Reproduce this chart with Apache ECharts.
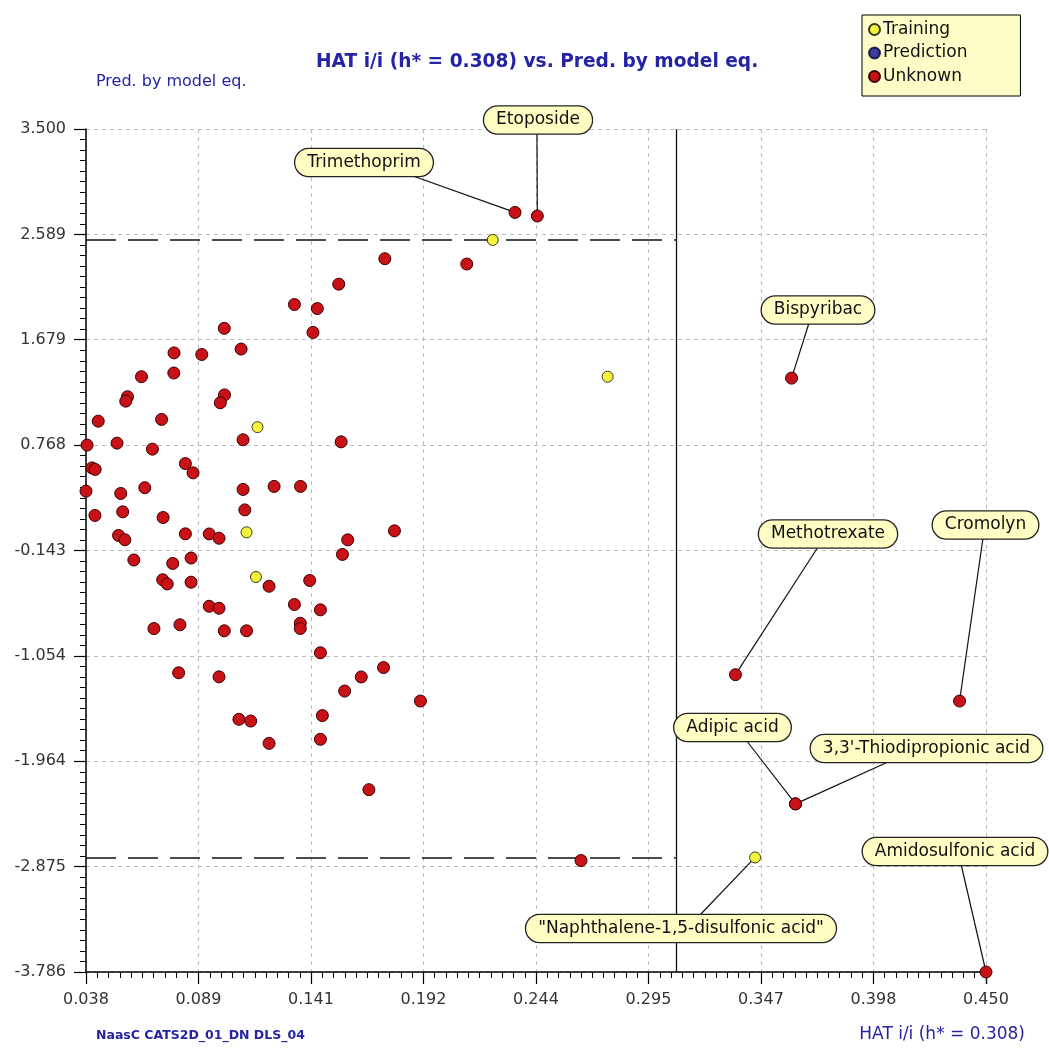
<!DOCTYPE html>
<html>
<head>
<meta charset="utf-8">
<script src="https://cdn.jsdelivr.net/npm/echarts@6/dist/echarts.min.js"></script>
<style>
html,body{margin:0;padding:0;background:#fff;}
#chart{width:1049px;height:1052px;}
</style>
</head>
<body>
<div id="chart"></div>
<script>
// ---------- DATA ----------
const xTickLabels = ['0.038','0.089','0.141','0.192','0.244','0.295','0.347','0.398','0.450'];
const yTickLabels = ['-3.786','-2.875','-1.964','-1.054','-0.143','0.768','1.679','2.589','3.500'];
const xMin = 0.038, xMax = 0.450;
const yMin = -3.786, yMax = 3.500;
const hStar = 0.308;
const upperLimit = 2.541;
const lowerLimit = -2.802;

// Unknown compounds (HAT i/i, Pred. by model eq.)
const unknownPoints = [
  [0.1013,1.777],[0.0783,1.565],[0.0910,1.551],[0.1090,1.598],[0.0634,1.359],[0.0782,1.391],
  [0.0570,1.186],[0.0562,1.148],[0.1014,1.202],[0.0995,1.134],[0.0436,0.975],[0.0726,0.990],
  [0.0385,0.768],[0.0522,0.785],[0.0684,0.733],[0.1099,0.814],[0.0407,0.571],[0.0422,0.558],
  [0.0835,0.608],[0.0870,0.528],[0.0380,0.370],[0.0539,0.350],[0.0649,0.400],[0.1099,0.385],
  [0.0421,0.160],[0.0548,0.191],[0.0733,0.142],[0.1107,0.208],[0.0529,-0.013],[0.0558,-0.050],
  [0.0835,0.001],[0.0944,0.000],[0.0989,-0.037],[0.0599,-0.225],[0.0777,-0.255],[0.0861,-0.208],
  [0.0731,-0.396],[0.0752,-0.432],[0.0861,-0.417],[0.0944,-0.625],[0.0989,-0.642],[0.0691,-0.818],
  [0.0810,-0.785],[0.1013,-0.837],[0.1115,-0.837],[0.0804,-1.200],[0.0989,-1.235],[0.1080,-1.602],
  [0.1134,-1.617],[0.1748,2.379],[0.1537,2.159],[0.1334,1.983],[0.1439,1.948],[0.1419,1.742],
  [0.1548,0.796],[0.1241,0.411],[0.1362,0.411],[0.1792,0.027],[0.1578,-0.051],[0.1554,-0.177],
  [0.1218,-0.452],[0.1404,-0.402],[0.1334,-0.610],[0.1453,-0.656],[0.1361,-0.772],[0.1361,-0.817],
  [0.1453,-1.027],[0.1742,-1.155],[0.1640,-1.236],[0.1564,-1.358],[0.1911,-1.444],[0.1462,-1.570],
  [0.1218,-1.810],[0.1453,-1.775],[0.1675,-2.210],[0.2123,2.333],[0.2646,-2.823]
];
// Training compounds
const trainingPoints = [
  [0.1165,0.923],[0.1115,0.014],[0.1158,-0.372],[0.2242,2.541],[0.2768,1.359]
];
// Prediction compounds (none)
const predictionPoints = [];

// Annotated compounds
const annotatedNames = ['Trimethoprim','Etoposide','Bispyribac','Methotrexate','Cromolyn',
  'Adipic acid',"3,3'-Thiodipropionic acid",'Amidosulfonic acid','"Naphthalene-1,5-disulfonic acid"'];
const annotatedPoints = [[0.2344,2.779],[0.2446,2.748],[0.3610,1.347],[0.3353,-1.216],[0.4379,-1.444],
  [0.3628,-2.333],[0.3628,-2.333],[0.4500,-3.786],[0.3443,-2.796]];
const annotatedSet = ['Unknown','Unknown','Unknown','Unknown','Unknown','Unknown','Unknown','Unknown','Training'];

// ---------- LAYOUT / STYLE ----------
// label box centres and leader-line attachment points (pixels)
const labelCenters = {
  'Trimethoprim':[364,162.5], 'Etoposide':[538,120], 'Bispyribac':[818,310],
  'Methotrexate':[828,534], 'Cromolyn':[985.5,525], 'Adipic acid':[732.5,727.5],
  "3,3'-Thiodipropionic acid":[926.5,748.5], 'Amidosulfonic acid':[955,851.5],
  '"Naphthalene-1,5-disulfonic acid"':[681,928.5]
};
const labelAnchors = {
  'Trimethoprim':[413,176], 'Etoposide':[537,133], 'Bispyribac':[809,323],
  'Methotrexate':[818,547], 'Cromolyn':[983,538], 'Adipic acid':[746,740],
  "3,3'-Thiodipropionic acid":[888,762], 'Amidosulfonic acid':[961,864],
  '"Naphthalene-1,5-disulfonic acid"':[699,916]
};
const FONT = 'DejaVu Sans';
const BLUE = '#2424a4';
const xInterval = (xMax - xMin) / 8;
const yInterval = (yMax - yMin) / 8;

function buildData(setName, plain) {
  const d = plain.map(p => ({value: p}));
  annotatedNames.forEach((n, i) => {
    if (annotatedSet[i] === setName) {
      d.push({value: annotatedPoints[i], name: n, label: {show: true, formatter: n}});
    }
  });
  return d;
}

const leaderLines = annotatedNames.map((n, i) => [
  {coord: annotatedPoints[i]},
  {x: labelAnchors[n][0], y: labelAnchors[n][1]}
]);

const annLabel = {
  show: false, color: '#111', fontFamily: FONT, fontSize: 17,
  backgroundColor: '#fdfdc4', borderColor: '#222', borderWidth: 1.3,
  borderRadius: 14, padding: [5, 12, 5, 12]
};
function annLayout(params) {
  const c = labelCenters[params.text];
  if (!c) return {};
  return {x: c[0], y: c[1], align: 'center', verticalAlign: 'middle'};
}

const axisCommon = {
  axisLine: {show: true, onZero: false, lineStyle: {color: '#000', width: 1.5}},
  axisTick: {show: true, length: 12, lineStyle: {color: '#000', width: 1.2}},
  minorTick: {show: true, splitNumber: 10, length: 6, lineStyle: {color: '#000', width: 1}},
  splitLine: {show: true, lineStyle: {color: '#bdbdbd', type: [4, 4], width: 1}},
  minorSplitLine: {show: false}
};

const chart = echarts.init(document.getElementById('chart'), null, {renderer: 'canvas'});
chart.setOption({
  animation: false,
  backgroundColor: '#fff',
  title: [
    {text: 'HAT i/i (h* = 0.308) vs. Pred. by model eq.', left: 316, top: 53, padding: 0,
     textStyle: {color: BLUE, fontFamily: FONT, fontSize: 18.6, fontWeight: 'bold'}},
    {text: 'Pred. by model eq.', left: 96, top: 74, padding: 0,
     textStyle: {color: BLUE, fontFamily: FONT, fontSize: 16, fontWeight: 'normal'}},
    {text: 'NaasC CATS2D_01_DN DLS_04', left: 96, top: 1029, padding: 0,
     textStyle: {color: BLUE, fontFamily: FONT, fontSize: 12.5, fontWeight: 'bold'}},
    {text: 'HAT i/i (h* = 0.308)', right: 24, top: 1026, padding: 0,
     textStyle: {color: BLUE, fontFamily: FONT, fontSize: 17, fontWeight: 'normal'}}
  ],
  legend: {
    left: 862, top: 15, orient: 'vertical',
    data: ['Training', 'Prediction', 'Unknown'],
    backgroundColor: '#fdfdc8', borderColor: '#000', borderWidth: 1, borderRadius: 0,
    padding: [6, 53, 11, 6], itemGap: 6.5, itemWidth: 11, itemHeight: 11,
    textStyle: {color: '#111', fontFamily: FONT, fontSize: 17, padding: [0, 0, 0, -2]}
  },
  grid: {left: 86, right: 63, top: 129, bottom: 80, containLabel: false},
  xAxis: Object.assign({
    type: 'value', min: xMin, max: xMax, interval: xInterval,
    axisLabel: {show: true, showMinLabel: true, showMaxLabel: true, margin: 20,
      color: '#333', fontFamily: FONT, fontSize: 16,
      formatter: v => xTickLabels[Math.round((v - xMin) / xInterval)] || ''}
  }, axisCommon),
  yAxis: Object.assign({
    type: 'value', min: yMin, max: yMax, interval: yInterval,
    axisLabel: {show: true, showMinLabel: true, showMaxLabel: true, margin: 20,
      color: '#333', fontFamily: FONT, fontSize: 16,
      formatter: v => yTickLabels[Math.round((v - yMin) / yInterval)] || ''}
  }, axisCommon),
  series: [
    {
      name: 'Training', type: 'scatter', symbol: 'circle', symbolSize: 11, clip: false, z: 4,
      itemStyle: {color: '#f4f43c', borderColor: '#3a3a1a', borderWidth: 1, opacity: 1},
      label: annLabel, labelLayout: annLayout,
      data: buildData('Training', trainingPoints)
    },
    {
      name: 'Prediction', type: 'scatter', symbol: 'circle', symbolSize: 11, clip: false,
      itemStyle: {color: '#0c0c90', borderColor: '#000030', borderWidth: 1},
      data: predictionPoints
    },
    {
      name: 'Unknown', type: 'scatter', symbol: 'circle', symbolSize: 12, clip: false, z: 3,
      itemStyle: {color: '#c81218', borderColor: '#3a0000', borderWidth: 1, opacity: 1},
      label: annLabel, labelLayout: annLayout,
      data: buildData('Unknown', unknownPoints),
      markLine: {
        silent: true, symbol: 'none', animation: false, z: 1,
        label: {show: false},
        data: [
          [{coord: [hStar, yMin], lineStyle: {color: '#111', width: 1.3, type: 'solid'}},
           {coord: [hStar, yMax]}],
          [{coord: [xMin, upperLimit], lineStyle: {color: '#111', width: 1.5, type: [30, 12]}},
           {coord: [hStar, upperLimit]}],
          [{coord: [xMin, lowerLimit], lineStyle: {color: '#111', width: 1.5, type: [30, 12]}},
           {coord: [hStar, lowerLimit]}]
        ].concat(leaderLines.map(l => [
          Object.assign({lineStyle: {color: '#111', width: 1.2, type: 'solid'}}, l[0]), l[1]
        ]))
      }
    }
  ]
});
</script>
</body>
</html>
